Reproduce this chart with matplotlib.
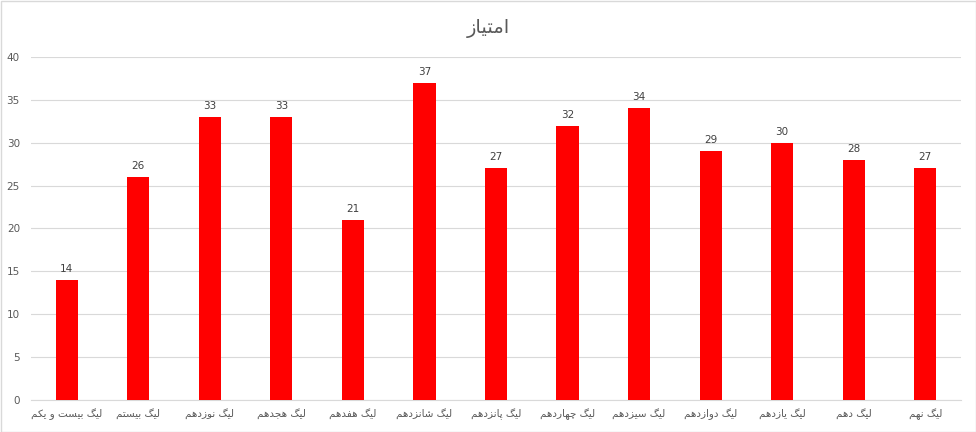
import matplotlib
matplotlib.use("Agg")
import matplotlib.pyplot as plt
from matplotlib.patches import Rectangle

title = "امتیاز"
leagues = ["لیگ بیست و یکم", "لیگ بیستم", "لیگ نوزدهم", "لیگ هجدهم", "لیگ هفدهم",
           "لیگ شانزدهم", "لیگ پانزدهم", "لیگ چهاردهم", "لیگ سیزدهم", "لیگ دوازدهم",
           "لیگ یازدهم", "لیگ دهم", "لیگ نهم"]
points = [14, 26, 33, 33, 21, 37, 27, 32, 34, 29, 30, 28, 27]

# presentation forms: isolated, final, initial, medial (None = no left join)
FORMS = {
    "ا": ("\uFE8D", "\uFE8E", None, None),
    "ب": ("\uFE8F", "\uFE90", "\uFE91", "\uFE92"),
    "پ": ("\uFB56", "\uFB57", "\uFB58", "\uFB59"),
    "ت": ("\uFE95", "\uFE96", "\uFE97", "\uFE98"),
    "ج": ("\uFE9D", "\uFE9E", "\uFE9F", "\uFEA0"),
    "چ": ("\uFB7A", "\uFB7B", "\uFB7C", "\uFB7D"),
    "د": ("\uFEA9", "\uFEAA", None, None),
    "ر": ("\uFEAD", "\uFEAE", None, None),
    "ز": ("\uFEAF", "\uFEB0", None, None),
    "س": ("\uFEB1", "\uFEB2", "\uFEB3", "\uFEB4"),
    "ش": ("\uFEB5", "\uFEB6", "\uFEB7", "\uFEB8"),
    "ف": ("\uFED1", "\uFED2", "\uFED3", "\uFED4"),
    "ک": ("\uFB8E", "\uFB8F", "\uFB90", "\uFB91"),
    "گ": ("\uFB92", "\uFB93", "\uFB94", "\uFB95"),
    "ل": ("\uFEDD", "\uFEDE", "\uFEDF", "\uFEE0"),
    "م": ("\uFEE1", "\uFEE2", "\uFEE3", "\uFEE4"),
    "ن": ("\uFEE5", "\uFEE6", "\uFEE7", "\uFEE8"),
    "ه": ("\uFEE9", "\uFEEA", "\uFEEB", "\uFEEC"),
    "و": ("\uFEED", "\uFEEE", None, None),
    "ی": ("\uFBFC", "\uFBFD", "\uFBFE", "\uFBFF"),
}


def shape(text):
    out = []
    for i, ch in enumerate(text):
        if ch not in FORMS:
            out.append(ch)
            continue
        prev = text[i - 1] if i > 0 else ""
        nxt = text[i + 1] if i + 1 < len(text) else ""
        joins_prev = prev in FORMS and FORMS[prev][2] is not None
        joins_next = nxt in FORMS and FORMS[ch][2] is not None
        iso, fin, ini, med = FORMS[ch]
        if joins_prev and joins_next:
            out.append(med)
        elif joins_prev:
            out.append(fin)
        elif joins_next:
            out.append(ini)
        else:
            out.append(iso)
    return "".join(reversed(out))


gray = "#595959"
fig = plt.figure(figsize=(9.76, 4.32), dpi=100)
ax = fig.add_axes([31 / 976, 32 / 432, 930 / 976, 343 / 432])

x = range(len(points))
bars = ax.bar(x, points, width=0.31, color="#FF0000", zorder=3)
for b, v in zip(bars, points):
    ax.text(b.get_x() + b.get_width() / 2, v + 0.7, str(v), ha="center", va="bottom",
            fontsize=7.5, color="#404040")

ax.set_xlim(-0.5, len(points) - 0.5)
ax.set_ylim(0, 40)
ax.set_yticks(range(0, 41, 5))
ax.set_xticks(list(x))
ax.set_xticklabels([shape(s) for s in leagues], fontsize=7.5, color=gray)
ax.tick_params(axis="y", labelsize=7.5, labelcolor=gray, length=0, pad=8)
ax.tick_params(axis="x", length=0, pad=6)
ax.grid(axis="y", color="#D9D9D9", linewidth=0.8, zorder=0)
for s in ["top", "right", "left"]:
    ax.spines[s].set_visible(False)
ax.spines["bottom"].set_color("#D9D9D9")

fig.text(0.5, 0.935, shape(title), ha="center", va="center", fontsize=14, color=gray)
fig.patches.append(Rectangle((0.5 / 976, 0.5 / 432), 975 / 976, 431 / 432, transform=fig.transFigure,
                             fill=False, edgecolor="#D9D9D9", linewidth=1))

fig.savefig("out.png", dpi=100)
